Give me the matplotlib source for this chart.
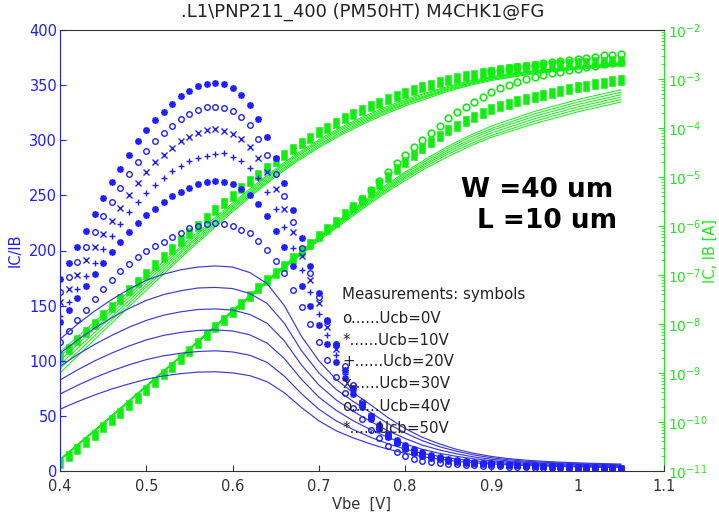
import numpy as np
import matplotlib
matplotlib.use("Agg")
import matplotlib.pyplot as plt
from matplotlib.ticker import LogLocator, NullFormatter, FixedLocator

# ---------------- data ----------------
vbe_meas = [
    0.40, 0.41, 0.42, 0.43, 0.44, 0.45, 0.46, 0.47, 0.48, 0.49, 0.50,
    0.51, 0.52, 0.53, 0.54, 0.55, 0.56, 0.57, 0.58, 0.59, 0.60, 0.61,
    0.62, 0.63, 0.64, 0.65, 0.66, 0.67, 0.68, 0.69, 0.70, 0.71, 0.72,
    0.73, 0.74, 0.75, 0.76, 0.77, 0.78, 0.79, 0.80, 0.81, 0.82, 0.83,
    0.84, 0.85, 0.86, 0.87, 0.88, 0.89, 0.90, 0.91, 0.92, 0.93, 0.94,
    0.95, 0.96, 0.97, 0.98, 0.99, 1.00, 1.01, 1.02, 1.03, 1.04, 1.05]

# measured current gain IC/IB per Ucb
gain_ucb0 = [
    117, 127, 137, 146, 156, 165, 173, 181, 188, 194, 200,
    204, 208, 212.5, 216, 220, 222, 224, 224.6, 224, 222, 219,
    215.6, 208.6, 200.5, 190.5, 180, 164, 149, 133, 117, 100.7, 85.5,
    70.5, 57, 47, 37.5, 29.5, 23, 17.5, 13.5, 10.8, 9.2, 8,
    7, 6.5, 6, 5.6, 5.2, 4.9, 4.6, 4.3, 4.0, 3.7, 3.4,
    3.1, 2.9, 2.7, 2.5, 2.3, 2.1, 2.0, 1.9, 1.8, 1.7, 1.6]
gain_ucb10 = [
    135, 146, 157, 168, 179, 189, 199, 208, 217, 225, 232,
    238, 244, 249, 253, 257, 260, 262, 263, 262, 260, 256,
    250, 242, 231, 218, 203, 186, 168, 150, 132, 115, 99,
    84, 70, 58, 47, 38, 31, 25, 20, 16.5, 14, 12,
    10.5, 9.3, 8.4, 7.7, 7.1, 6.6, 6.2, 5.8, 5.5, 5.2, 4.9,
    4.6, 4.4, 4.2, 4.0, 3.8, 3.6, 3.4, 3.3, 3.1, 3.0, 2.9]
gain_ucb20 = [
    141, 153, 165, 177, 189, 201, 213, 224, 235, 244, 252,
    259, 266, 272, 277, 281, 284, 286, 287.7, 288, 285, 281,
    275, 265.5, 253, 238, 221, 202, 182, 162, 142, 123, 105,
    88, 73, 60, 48, 39, 31, 25, 20, 16.5, 13.8, 11.8,
    10.3, 9.1, 8.2, 7.5, 6.9, 6.4, 6.0, 5.6, 5.3, 5.0, 4.7,
    4.5, 4.3, 4.1, 3.9, 3.7, 3.5, 3.3, 3.2, 3.0, 2.9, 2.8]
gain_ucb30 = [
    153, 165, 178, 191, 203, 215, 227, 239, 250, 261, 271,
    280, 287, 293, 299, 303, 307, 309, 310, 308, 305.7, 301,
    293.6, 283.6, 271.5, 256, 238, 217, 195, 173, 152, 131, 111,
    92, 76, 62, 50, 40, 32, 26, 21, 17.2, 14.3, 12.2,
    10.6, 9.4, 8.5, 7.8, 7.2, 6.7, 6.3, 5.9, 5.6, 5.3, 5.0,
    4.7, 4.5, 4.3, 4.1, 3.9, 3.7, 3.5, 3.4, 3.2, 3.1, 3.0]
gain_ucb40 = [
    162, 176, 190, 203, 217, 231, 244, 257, 269, 280, 290,
    299, 307, 313, 319, 324, 327.4, 330, 330.4, 329, 326.5, 321,
    314, 301, 287, 269, 249, 226, 202, 180, 158, 136, 115,
    95, 78, 63, 50, 40, 32, 26, 21, 17.5, 15, 13,
    11.5, 10.2, 9.2, 8.4, 7.7, 7.1, 6.6, 6.1, 5.7, 5.3, 4.9,
    4.6, 4.3, 4.0, 3.7, 3.5, 3.3, 3.1, 2.9, 2.7, 2.5, 2.4]
gain_ucb50 = [
    174, 189, 203, 218, 233, 248, 262, 274, 287, 299, 309,
    318, 326, 333, 340, 345, 349, 351, 352, 351, 347, 341,
    332, 319, 303, 284, 261, 237, 211, 186, 161, 137, 114,
    92, 75, 61, 50, 42, 34, 28, 23.5, 19.8, 16.8, 14.4,
    12.5, 11, 9.8, 8.9, 8.1, 7.5, 7.0, 6.5, 6.1, 5.7, 5.4,
    5.1, 4.8, 4.5, 4.3, 4.1, 3.9, 3.7, 3.5, 3.4, 3.2, 3.1]

# measured currents, log10(A)
ic_log10 = [
    -8.67, -8.50, -8.33, -8.16, -7.99, -7.82, -7.65, -7.48, -7.31, -7.14, -6.97,
    -6.80, -6.64, -6.47, -6.31, -6.15, -5.99, -5.83, -5.68, -5.53, -5.38, -5.23,
    -5.09, -4.95, -4.81, -4.68, -4.55, -4.43, -4.31, -4.20, -4.09, -3.99, -3.89,
    -3.80, -3.71, -3.63, -3.55, -3.48, -3.41, -3.34, -3.28, -3.22, -3.17, -3.12,
    -3.07, -3.02, -2.98, -2.94, -2.91, -2.88, -2.85, -2.82, -2.80, -2.78, -2.76,
    -2.74, -2.73, -2.71, -2.70, -2.69, -2.68, -2.67, -2.66, -2.65, -2.64, -2.63]
ib_log10 = [
    -10.84, -10.70, -10.55, -10.41, -10.26, -10.11, -9.96, -9.81, -9.66, -9.51, -9.35,
    -9.19, -9.03, -8.87, -8.71, -8.55, -8.39, -8.23, -8.07, -7.91, -7.75, -7.59,
    -7.43, -7.27, -7.11, -6.96, -6.81, -6.66, -6.51, -6.36, -6.21, -6.06, -5.91,
    -5.76, -5.61, -5.46, -5.31, -5.15, -4.99, -4.84, -4.69, -4.55, -4.41, -4.28,
    -4.16, -4.05, -3.95, -3.86, -3.77, -3.69, -3.62, -3.56, -3.50, -3.45, -3.40,
    -3.36, -3.32, -3.28, -3.24, -3.20, -3.17, -3.14, -3.11, -3.08, -3.05, -3.02]
# 'o' series that separates at high Vbe (from 0.90 V for IC, from 0.74 V for IB)
ic_o_log10 = [-2.84, -2.81, -2.78, -2.76, -2.73, -2.71, -2.68, -2.66,
              -2.63, -2.61, -2.59, -2.57, -2.55, -2.52, -2.50, -2.48]
ib_o_log10 = [-5.61, -5.44, -5.26, -5.08, -4.90, -4.72, -4.55, -4.39,
              -4.24, -4.10, -3.95, -3.80, -3.68, -3.57, -3.46, -3.36,
              -3.27, -3.19, -3.12, -3.06, -3.00, -2.96, -2.92, -2.88,
              -2.85, -2.82, -2.79, -2.76, -2.73, -2.70, -2.68, -2.65]

# simulated gain curves
vbe_sim_gain = [0.40, 0.42, 0.44, 0.46, 0.48, 0.50, 0.52, 0.54, 0.56, 0.58, 0.60,
                0.62, 0.64, 0.66, 0.68, 0.70, 0.72, 0.74, 0.76, 0.78, 0.80, 0.82,
                0.84, 0.86, 0.88, 0.90, 0.92, 0.94, 0.96, 0.98, 1.00, 1.02, 1.04, 1.05]
sim_gain_1 = [119.5, 133, 145, 155.5, 165, 173, 178.5, 182.5, 185, 186, 185, 180, 170, 150,
              122, 100, 83, 71, 60, 48.5, 38.5, 30.5, 24.5, 19.5, 16, 13.2, 11.2, 9.8, 8.8,
              8, 7.4, 6.9, 6.5, 6.3]
sim_gain_2 = [106.7, 118.7, 129.5, 139, 147.5, 154.7, 160, 163.5, 166, 166.5, 165.5, 161, 152,
              134, 109, 89, 74, 63, 53, 43, 34.5, 27.5, 22, 17.8, 14.5, 12, 10.2, 8.9, 8, 7.3,
              6.7, 6.3, 5.9, 5.7]
sim_gain_3 = [95, 105.4, 114.8, 123, 130.4, 136.6, 141.3, 144.4, 146.5, 147, 146, 142, 134, 118,
              96, 78, 64.5, 54, 45, 36.5, 29.5, 23.5, 19, 15.5, 12.7, 10.6, 9.1, 8, 7.2, 6.5, 6,
              5.6, 5.3, 5.1]
sim_gain_4 = [82.5, 91.6, 99.8, 107, 113.4, 118.9, 123, 125.7, 127.5, 128, 127, 123.5, 116, 102,
              83, 67, 55, 45.5, 37.5, 30.5, 24.5, 19.7, 16, 13.2, 11, 9.3, 8.1, 7.1, 6.4, 5.8,
              5.3, 5, 4.7, 4.5]
sim_gain_5 = [69.8, 77.6, 84.6, 90.9, 96.3, 101, 104.5, 106.8, 108.4, 109, 108, 105, 98.5, 86,
              70, 56, 45.5, 37.5, 30.5, 24.7, 19.9, 16.1, 13.2, 10.9, 9.1, 7.8, 6.8, 6, 5.4,
              4.9, 4.5, 4.2, 4, 3.9]
sim_gain_6 = [56, 62.8, 68.9, 74.4, 79, 83.2, 86.3, 88.3, 89.7, 90, 89, 86.5, 81, 71, 57.5,
              45.5, 36.5, 30, 24.5, 19.8, 16, 13, 10.6, 8.8, 7.4, 6.4, 5.6, 5, 4.5, 4.1, 3.8,
              3.5, 3.3, 3.2]

# simulated currents, log10(A)
vbe_sim_cur = [0.40, 0.45, 0.50, 0.55, 0.60, 0.625, 0.65, 0.675, 0.70, 0.725,
               0.75, 0.775, 0.80, 0.825, 0.85, 0.875, 0.90, 0.95, 1.00, 1.05]
sim_ic_1 = [-8.57, -7.80, -7.03, -6.27, -5.53, -5.17, -4.83, -4.52, -4.24, -3.99,
            -3.78, -3.59, -3.42, -3.28, -3.15, -3.04, -2.95, -2.83, -2.75, -2.67]
sim_ic_2 = [-8.66, -7.87, -7.09, -6.31, -5.57, -5.20, -4.86, -4.55, -4.27, -4.02,
            -3.81, -3.62, -3.45, -3.30, -3.17, -3.06, -2.97, -2.84, -2.76, -2.68]
sim_ic_3 = [-8.74, -7.94, -7.14, -6.36, -5.60, -5.24, -4.89, -4.58, -4.30, -4.05,
            -3.84, -3.65, -3.47, -3.33, -3.19, -3.08, -2.98, -2.85, -2.77, -2.69]
sim_ic_4 = [-8.83, -8.01, -7.20, -6.40, -5.64, -5.27, -4.93, -4.62, -4.34, -4.09,
            -3.87, -3.67, -3.50, -3.35, -3.21, -3.09, -3.00, -2.87, -2.78, -2.70]
sim_ic_5 = [-8.91, -8.08, -7.25, -6.45, -5.67, -5.31, -4.96, -4.65, -4.37, -4.12,
            -3.90, -3.70, -3.52, -3.37, -3.23, -3.11, -3.01, -2.88, -2.79, -2.71]
sim_ic_6 = [-9.00, -8.15, -7.31, -6.49, -5.71, -5.34, -4.99, -4.68, -4.40, -4.15,
            -3.93, -3.73, -3.55, -3.40, -3.25, -3.13, -3.03, -2.89, -2.80, -2.72]
sim_ib_1 = [-10.76, -10.02, -9.26, -8.50, -7.72, -7.34, -6.95, -6.58, -6.21, -5.86,
            -5.52, -5.20, -4.90, -4.62, -4.37, -4.15, -3.96, -3.66, -3.42, -3.22]
sim_ib_2 = [-10.76, -10.02, -9.26, -8.50, -7.73, -7.35, -6.96, -6.59, -6.23, -5.88,
            -5.55, -5.23, -4.93, -4.66, -4.41, -4.19, -4.01, -3.71, -3.47, -3.27]
sim_ib_3 = [-10.77, -10.03, -9.27, -8.51, -7.73, -7.36, -6.97, -6.61, -6.25, -5.91,
            -5.58, -5.26, -4.97, -4.70, -4.45, -4.24, -4.05, -3.76, -3.52, -3.32]
sim_ib_4 = [-10.77, -10.03, -9.27, -8.51, -7.74, -7.37, -6.98, -6.62, -6.26, -5.93,
            -5.60, -5.29, -5.00, -4.73, -4.49, -4.28, -4.10, -3.81, -3.57, -3.37]
sim_ib_5 = [-10.78, -10.04, -9.28, -8.52, -7.75, -7.38, -6.99, -6.63, -6.28, -5.95,
            -5.63, -5.32, -5.03, -4.77, -4.53, -4.33, -4.15, -3.86, -3.62, -3.42]
sim_ib_6 = [-10.78, -10.04, -9.28, -8.52, -7.76, -7.39, -7.00, -6.65, -6.30, -5.98,
            -5.66, -5.35, -5.07, -4.81, -4.58, -4.37, -4.19, -3.91, -3.67, -3.47]

x_ticks = [0.4, 0.5, 0.6, 0.7, 0.8, 0.9, 1.0, 1.1]
x_tick_labels = ["0.4", "0.5", "0.6", "0.7", "0.8", "0.9", "1", "1.1"]
y_ticks = [0, 50, 100, 150, 200, 250, 300, 350, 400]
y2_ticks = [1e-11, 1e-10, 1e-9, 1e-8, 1e-7, 1e-6, 1e-5, 1e-4, 1e-3, 1e-2]
legend_lines = ["o......Ucb=0V", "*......Ucb=10V", "+......Ucb=20V",
                "x......Ucb=30V", "o......Ucb=40V", "*......Ucb=50V"]

# ---------------- style ----------------
BLUE = "#1e1eff"
BLUE_LINE = "#3a3ad8"
GREEN = "#10ee10"
GREEN_AX = "#22e622"
DARK = "#333333"

plt.rcParams["font.family"] = ["DejaVu Sans"]

fig = plt.figure(figsize=(7.19, 5.19), dpi=100)
ax = fig.add_axes([60 / 719, 48 / 519, 604 / 719, 441 / 519])
ax2 = ax.twinx()
ax.set_zorder(ax2.get_zorder() + 1)
ax.patch.set_visible(False)

# ---- green (currents, right log axis)
rect = [(-0.36, -0.5), (0.36, -0.5), (0.36, 0.5), (-0.36, 0.5), (-0.36, -0.5)]
for arr in (sim_ic_1, sim_ic_2, sim_ic_3, sim_ic_4, sim_ic_5, sim_ic_6,
            sim_ib_1, sim_ib_2, sim_ib_3, sim_ib_4, sim_ib_5, sim_ib_6):
    ax2.plot(vbe_sim_cur, 10.0 ** np.array(arr), color=GREEN, lw=0.7)
ax2.plot(vbe_meas, 10.0 ** np.array(ic_log10), ls="none", marker=rect, ms=7.0,
         color=GREEN, mec=GREEN, mew=0.4)
ax2.plot(vbe_meas, 10.0 ** np.array(ib_log10), ls="none", marker=rect, ms=7.0,
         color=GREEN, mec=GREEN, mew=0.4)
ax2.plot(vbe_meas[50:], 10.0 ** np.array(ic_o_log10), ls="none", marker="o", ms=4.8,
         mfc="none", mec=GREEN, mew=1.2)
ax2.plot(vbe_meas[34:], 10.0 ** np.array(ib_o_log10), ls="none", marker="o", ms=4.8,
         mfc="none", mec=GREEN, mew=1.2)

# ---- blue (gain, left axis)
for arr in (sim_gain_1, sim_gain_2, sim_gain_3, sim_gain_4, sim_gain_5, sim_gain_6):
    ax.plot(vbe_sim_gain, arr, color=BLUE_LINE, lw=0.85)

ast = (8, 2, 0)
series = [(gain_ucb0, "o", 4.0, 1.0), (gain_ucb10, ast, 4.8, 1.2),
          (gain_ucb20, "+", 4.5, 1.0), (gain_ucb30, "x", 3.8, 1.0),
          (gain_ucb40, "o", 4.0, 1.0), (gain_ucb50, ast, 4.8, 1.2)]
for arr, mk, ms, mew in series:
    ax.plot(vbe_meas, arr, ls="none", marker=mk, ms=ms, mfc="none",
            mec=BLUE, mew=mew)

# ---- axes
ax.set_xlim(0.4, 1.1)
ax.set_ylim(0, 400)
ax2.set_yscale("log")
ax2.set_ylim(1e-11, 1e-2)

ax.set_xticks(x_ticks)
ax.set_xticklabels(x_tick_labels)
ax.set_yticks(y_ticks)
ax.tick_params(axis="x", direction="in", length=4, colors=DARK, labelsize=10.5, pad=6)
ax.tick_params(axis="y", direction="in", length=4.5, colors=BLUE, labelsize=10.5, pad=2)
ax2.yaxis.set_major_locator(FixedLocator(y2_ticks))
ax2.yaxis.set_minor_locator(LogLocator(base=10, subs=np.arange(2, 10), numticks=100))
ax2.yaxis.set_minor_formatter(NullFormatter())
ax2.tick_params(axis="y", which="major", direction="in", length=4.5, colors=GREEN_AX,
                labelsize=10, pad=3)
ax2.tick_params(axis="y", which="minor", direction="in", length=2.5, colors=GREEN_AX)

for a in (ax, ax2):
    a.xaxis.get_offset_text().set_visible(False)
    a.yaxis.get_offset_text().set_visible(False)

for s in ("top", "bottom"):
    ax.spines[s].set_color(DARK)
    ax2.spines[s].set_visible(False)
ax.spines["left"].set_color(BLUE)
ax.spines["right"].set_visible(False)
ax2.spines["left"].set_visible(False)
ax2.spines["right"].set_color(GREEN_AX)

ax.set_ylabel("IC/IB", color=BLUE, fontsize=10.5)
ax.yaxis.set_label_coords(-0.0613, 0.5)
ax2.set_ylabel("IC, IB [A]", color=GREEN_AX, fontsize=10.5)
ax2.yaxis.set_label_coords(1.0646, 0.5)
ax.set_xlabel("Vbe  [V]", color=DARK, fontsize=10.5)
ax.xaxis.set_label_coords(0.5, -0.059)

fig.text(363 / 719, 1 - 17 / 519, ".L1\\PNP211_400 (PM50HT) M4CHK1@FG",
         ha="center", va="baseline", fontsize=13, color="#222222")

ax.text(0.7906, 0.622, "W =40 um", transform=ax.transAxes, ha="center",
        va="baseline", fontsize=19, fontweight="bold", color="black")
ax.text(0.806, 0.551, "L =10 um", transform=ax.transAxes, ha="center",
        va="baseline", fontsize=19, fontweight="bold", color="black")

ax.text(0.467, 0.389, "Measurements: symbols", transform=ax.transAxes,
        ha="left", va="baseline", fontsize=10.8, color="#222222")
leg_y = [0.336, 0.286, 0.238, 0.1875, 0.136, 0.0855]
for yy, txt in zip(leg_y, legend_lines):
    ax.text(0.467, yy, txt, transform=ax.transAxes, ha="left", va="baseline",
            fontsize=10.8, color="#222222")

fig.savefig("out.png", dpi=100)
